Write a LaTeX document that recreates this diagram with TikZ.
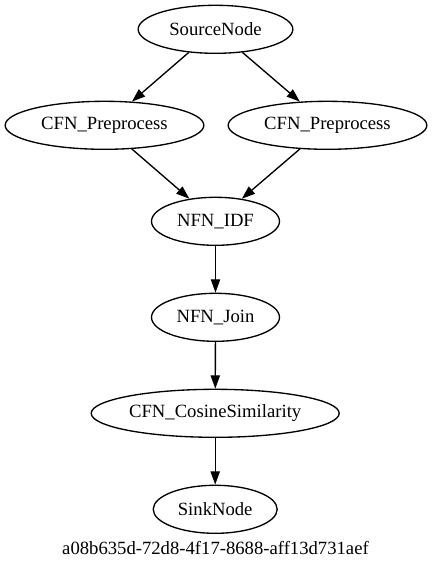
\documentclass[tikz,border=0pt]{standalone}
\usepackage{fontspec}
\setmainfont{Liberation Serif}
\newfontfamily\gvfont{Liberation Serif}
\usetikzlibrary{shapes.geometric,arrows.meta}
\tikzset{
  gvtext/.style={font=\gvfont\fontsize{14bp}{16.8bp}\selectfont},
  gvnode/.style={draw=black, line width=1bp, ellipse, inner sep=0pt, minimum height=36bp, gvtext},
  gvedge/.style={draw=black, line width=1bp, -{Triangle[length=10bp,width=7bp]}},
}
\begin{document}
\begin{tikzpicture}[x=0.75bp,y=-0.75bp]
\useasboundingbox (0,0) rectangle (432,569);
\node[gvnode, minimum width=116bp] (src) at (215.5,29.3) {SourceNode};
\node[gvnode, minimum width=149bp] (cl) at (104.5,125.3) {CFN\_Preprocess};
\node[gvnode, minimum width=149bp] (cr) at (327.5,125.3) {CFN\_Preprocess};
\node[gvnode, minimum width=96bp] (idf) at (215.5,221.3) {NFN\_IDF};
\node[gvnode, minimum width=96bp] (join) at (215.5,317.3) {NFN\_Join};
\node[gvnode, minimum width=186bp] (cos) at (215.2,413.3) {CFN\_CosineSimilarity};
\node[gvnode, minimum width=93bp] (sink) at (215.2,509.3) {SinkNode};
\node[gvtext, inner sep=0pt] (lbl) at (215.5,548.5) {a08b635d-72d8-4f17-8688-aff13d731aef};
\draw[gvedge] (src) -- (cl);
\draw[gvedge] (src) -- (cr);
\draw[gvedge] (cl) -- (idf);
\draw[gvedge] (cr) -- (idf);
\draw[gvedge] (idf) -- (join);
\draw[gvedge] (join) -- (cos);
\draw[gvedge] (cos) -- (sink);
\end{tikzpicture}
\end{document}
